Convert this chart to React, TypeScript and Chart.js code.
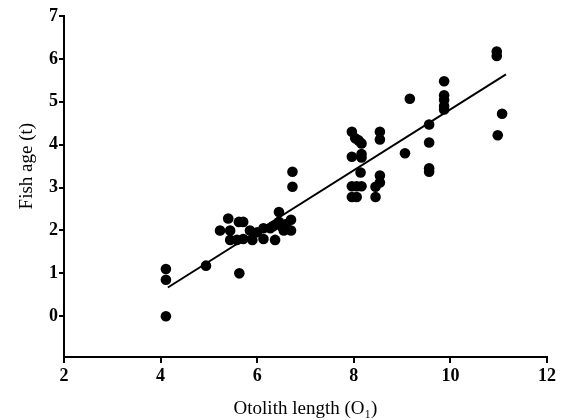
import React, { useEffect, useRef } from "react";
import { Chart, registerables } from "chart.js";

Chart.register(...registerables);

const otolithLength: number[] = [
  4.11, 4.11, 4.11, 4.94, 5.63,
  5.23, 5.40, 5.44, 5.44, 5.62, 5.71, 5.58, 5.71, 5.85, 5.90, 6.00, 6.13, 6.13, 6.27, 6.33, 6.37, 6.45, 6.45, 6.50, 6.55, 6.60, 6.70, 6.70, 6.73, 6.73,
  7.96, 8.03, 8.10, 8.16, 8.54, 8.54, 7.96, 8.16, 8.16, 8.14, 8.54, 8.54, 8.45, 7.96, 8.06, 8.16, 7.96, 8.06, 8.45,
  9.06, 9.16, 9.56, 9.56, 9.56, 9.56, 9.87, 9.87, 9.87, 9.87, 9.87, 10.96, 10.96, 10.98, 11.07,
];
const fishAge: number[] = [
  1.10, 0.85, 0.0, 1.18, 1.0,
  2.0, 2.28, 2.0, 1.78, 2.2, 2.2, 1.78, 1.8, 2.0, 1.78, 1.96, 2.05, 1.8, 2.05, 2.1, 1.78, 2.43, 2.2, 2.1, 2.0, 2.15, 2.25, 2.0, 3.02, 3.37,
  4.3, 4.15, 4.1, 4.03, 4.3, 4.12, 3.72, 3.78, 3.7, 3.35, 3.28, 3.12, 3.02, 3.03, 3.03, 3.03, 2.78, 2.78, 2.78,
  3.8, 5.07, 4.47, 4.05, 3.45, 3.37, 5.48, 5.15, 5.05, 4.9, 4.82, 6.17, 6.07, 4.22, 4.72,
];
const fitX: number[] = [4.15, 11.15];
const fitY: number[] = [0.67, 5.64];
const xTicks: number[] = [2, 4, 6, 8, 10, 12];
const yTicks: number[] = [0, 1, 2, 3, 4, 5, 6, 7];
const xTitle = "Otolith length (O\u2081)";
const yTitle = "Fish age (t)";

const SERIF = "'Liberation Serif', 'Times New Roman', serif";

const titlePlugin = {
  id: "axisTitles",
  afterDraw(chart: any) {
    const ctx = chart.ctx as CanvasRenderingContext2D;
    const area = chart.chartArea;
    const ys = chart.scales.y;
    ctx.save();
    ctx.fillStyle = "#000";
    ctx.font = `normal 19px ${SERIF}`;
    ctx.textAlign = "center";
    ctx.textBaseline = "alphabetic";
    ctx.fillText(xTitle, (area.left + area.right) / 2, 414);
    const cy = (ys.getPixelForValue(yTicks[0]) + ys.getPixelForValue(yTicks[yTicks.length - 1])) / 2;
    ctx.translate(27, cy);
    ctx.rotate(-Math.PI / 2);
    ctx.textBaseline = "middle";
    ctx.fillText(yTitle, 0, 0);
    ctx.restore();
  },
};

export default function App() {
  const ref = useRef<HTMLCanvasElement | null>(null);
  useEffect(() => {
    if (!ref.current) return;
    const font = { family: SERIF, size: 18, weight: "bold" as const };
    const chart = new Chart(ref.current, {
      type: "scatter",
      data: {
        datasets: [
          {
            type: "line",
            data: fitX.map((x, i) => ({ x, y: fitY[i] })),
            borderColor: "#000",
            borderWidth: 2,
            pointRadius: 0,
            fill: false,
            order: 2,
          },
          {
            type: "scatter",
            data: otolithLength.map((x, i) => ({ x, y: fishAge[i] })),
            backgroundColor: "#000",
            borderColor: "#000",
            pointRadius: 5.3,
            pointHoverRadius: 5.3,
            borderWidth: 0,
            order: 1,
          },
        ],
      },
      options: {
        responsive: false,
        animation: false,
        layout: { padding: { top: 16, right: 18, left: 0, bottom: 0 } },
        plugins: { legend: { display: false }, tooltip: { enabled: false } },
        scales: {
          x: {
            type: "linear",
            min: 2,
            max: 12,
            afterBuildTicks: (s: any) => { s.ticks = xTicks.map((v) => ({ value: v })); },
            afterFit: (s: any) => { s.height = 63; },
            grid: { drawOnChartArea: false, drawTicks: true, tickLength: 6, color: "#000", lineWidth: 2 },
            border: { display: true, color: "#000", width: 2 },
            ticks: { color: "#000", font, padding: 3, maxRotation: 0 },
            title: { display: false },
          },
          y: {
            type: "linear",
            min: -0.95,
            max: 7,
            afterBuildTicks: (s: any) => { s.ticks = yTicks.map((v) => ({ value: v })); },
            afterFit: (s: any) => { s.width = 64; },
            grid: { drawOnChartArea: false, drawTicks: true, tickLength: 5, color: "#000", lineWidth: 2 },
            border: { display: true, color: "#000", width: 2 },
            ticks: { color: "#000", font, padding: 1 },
            title: { display: false },
          },
        },
      },
      plugins: [titlePlugin],
    });
    return () => chart.destroy();
  }, []);
  return (
    <div style={{ position: "fixed", left: 0, top: 0, width: 565, height: 420, background: "#fff" }}>
      <canvas ref={ref} width={565} height={420} style={{ width: 565, height: 420 }} />
    </div>
  );
}
